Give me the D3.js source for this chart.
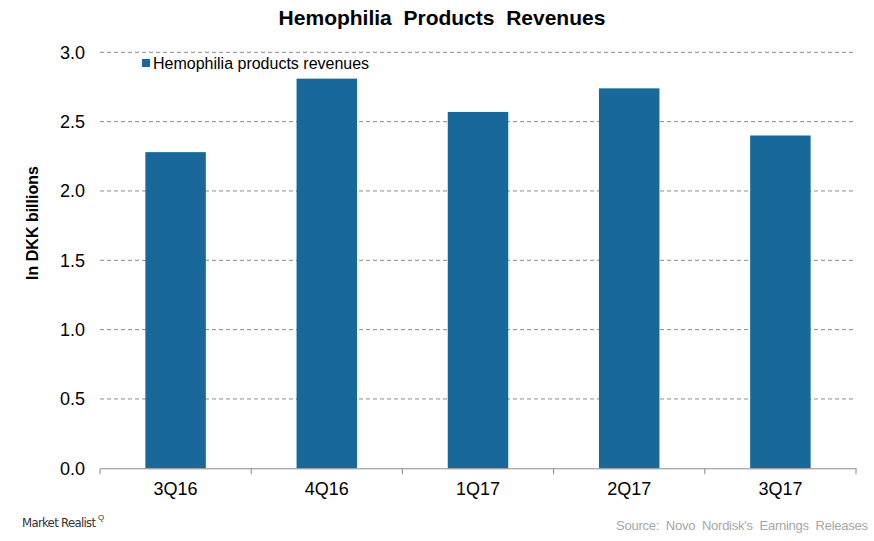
<!DOCTYPE html>
<html><head><meta charset="utf-8">
<script src="https://cdn.jsdelivr.net/npm/d3@7"></script>
<style>body{margin:0;background:#fff}svg{display:block;font-family:"Liberation Sans",Arial,sans-serif}</style>
</head><body><svg id="c" width="874" height="541"></svg>
<script>
const categories = ["3Q16","4Q16","1Q17","2Q17","3Q17"];
const revenues = [2.28, 2.81, 2.57, 2.74, 2.40];
const yTicks = [0,0.5,1.0,1.5,2.0,2.5,3.0];
const seriesName = "Hemophilia products revenues";
const title = "Hemophilia  Products  Revenues";
const yTitle = "In DKK billions";
const source = "Source:  Novo  Nordisk's  Earnings  Releases";

const svg = d3.select("#c");
const m = {left:100, right:856, top:52.3, bottom:468.3};
const x = d3.scaleBand().domain(categories).range([m.left,m.right]).paddingInner(0.6).paddingOuter(0.3);
const y = d3.scaleLinear().domain([0,3]).range([m.bottom,m.top]);
const color = "#186899";

svg.append("text").attr("x",442).attr("y",25).attr("text-anchor","middle")
  .attr("font-size",21).attr("font-weight","bold").style("white-space","pre").text(title);

// grid
svg.append("g").selectAll("line").data(yTicks.filter(d=>d>0)).join("line")
  .attr("x1",m.left).attr("x2",m.right).attr("y1",d=>y(d)).attr("y2",d=>y(d))
  .attr("stroke","#8c8c8c").attr("stroke-dasharray","4,3").attr("stroke-width",1);

// y labels
svg.append("g").selectAll("text").data(yTicks).join("text")
  .attr("x",85).attr("y",d=>y(d)+6.5).attr("text-anchor","end").attr("font-size",18)
  .attr("fill","#000").text(d=>d.toFixed(1));

// bars
svg.append("g").selectAll("rect").data(revenues).join("rect")
  .attr("x",(d,i)=>x(categories[i])).attr("width",x.bandwidth())
  .attr("y",d=>y(d)).attr("height",d=>y(0)-y(d)).attr("fill",color);

// x axis
const xa = svg.append("g").attr("transform",`translate(0,${m.bottom})`)
  .call(d3.axisBottom(x).tickSize(0).tickPadding(14));
xa.select(".domain").attr("stroke","#8c8c8c");
xa.selectAll("text").attr("font-size",18).attr("font-family","Liberation Sans, Arial, sans-serif").attr("fill","#000");
const bounds = [m.left].concat(categories.map(c=>x(c)+x.bandwidth()/2+x.step()/2));
svg.append("g").selectAll("line").data(bounds).join("line")
  .attr("x1",d=>d).attr("x2",d=>d).attr("y1",m.bottom).attr("y2",m.bottom+6).attr("stroke","#8c8c8c");

// y title
svg.append("text").attr("transform","translate(38,223) rotate(-90)").attr("text-anchor","middle")
  .attr("font-size",16).attr("font-weight","bold").text(yTitle);

// legend
svg.append("rect").attr("x",142).attr("y",59).attr("width",8).attr("height",8).attr("fill",color);
svg.append("text").attr("x",153).attr("y",69).attr("font-size",16).text(seriesName);

// footer
svg.append("text").attr("x",22).attr("y",527).attr("font-size",13).attr("fill","#333")
  .attr("font-family","'Liberation Sans Narrow','DejaVu Sans Condensed',sans-serif").attr("textLength",74).text("Market Realist");
svg.append("text").attr("x",98).attr("y",520).attr("font-size",8).attr("fill","#333").text("Q");
svg.append("text").attr("x",868).attr("y",530).attr("text-anchor","end").attr("font-size",13)
  .attr("fill","#a6a6a6").attr("textLength",252).style("white-space","pre").text(source);
</script></body></html>
